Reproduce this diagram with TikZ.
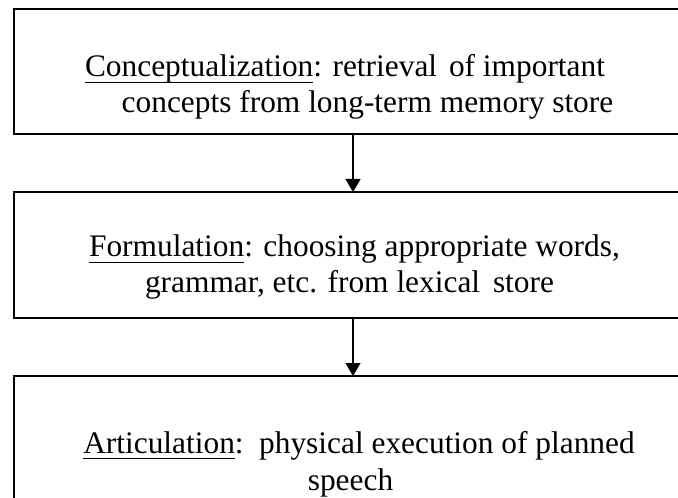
\documentclass[tikz,border=0pt]{standalone}
\usepackage{fontspec}
\setmainfont{Liberation Serif}
\usetikzlibrary{arrows.meta}
% underline drawn at a fixed depth below the baseline
\newcommand\ulword[1]{\setbox0\hbox{#1}\rlap{\rule[-6bp]{\wd0}{1.3bp}}\box0}
\begin{document}
\begin{tikzpicture}[x=1bp,y=-1bp,
  stage/.style={draw=black,line width=2.2bp,minimum width=678bp,inner sep=0pt,outer sep=0pt},
  txt/.style={anchor=base,inner sep=0pt,font=\fontsize{31.5}{38}\selectfont},
  flow/.style={line width=1.2bp,-{Triangle[width=15bp,length=13bp]}}]
\useasboundingbox (0,0) rectangle (678,498);
\clip (0,0) rectangle (678,498);
% the three stages
\node[stage,minimum height=125bp] (concept) at (353,71.5) {};
\node[stage,minimum height=126bp] (formul) at (353,255) {};
\node[stage,minimum height=126bp] (artic) at (353,439) {};
% stage texts
\node[txt] (c1) at (345,77) {\ulword{Conceptualization}: retrieval\hspace{4bp} of important};
\node[txt] (c2) at (367.5,113) {concepts from long-term memory store};
\node[txt] (f1) at (354.5,257) {\ulword{Formulation}: choosing appropriate words,};
\node[txt] (f2) at (349.5,292) {grammar, etc. from lexical\hspace{5bp} store};
\node[txt] (a1) at (359,453) {\ulword{Articulation}:\hspace{5bp} physical execution of planned};
\node[txt] (a2) at (350.5,490) {speech};
% connectors
\draw[flow] (concept.south) -- (formul.north);
\draw[flow] (formul.south) -- (artic.north);
\end{tikzpicture}
\end{document}
